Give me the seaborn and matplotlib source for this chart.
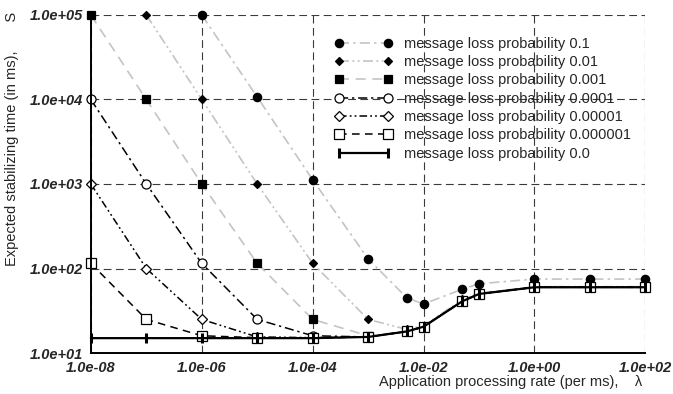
import numpy as np
import matplotlib
matplotlib.use("Agg")
import matplotlib.pyplot as plt
from matplotlib.ticker import FuncFormatter, NullLocator
import seaborn as sns

sns.set_style("white")
plt.rcParams['font.family'] = ['Liberation Sans', 'DejaVu Sans']

nan = np.nan
# application processing rate (per ms)
x_rate = [1e-8, 1e-7, 1e-6, 1e-5, 1e-4, 1e-3, 5e-3, 1e-2, 5e-2, 1e-1, 1e0, 1e1, 1e2]

# expected stabilizing time (ms) per message loss probability
s_p1 = [nan, nan, 1.0e5, 1.07e4, 1.12e3, 130, 45, 38, 57, 66, 75, 75, 75]
s_p01 = [nan, 1.0e5, 1.0e4, 1.0e3, 115, 25, 19, 21, 43, 51, 61, 61, 61]
s_p001 = [1.0e5, 1.0e4, 1.0e3, 115, 25, 16, 18, 20.5, 41, 50, 60, 60, 60]
s_p0001 = [1.0e4, 1.0e3, 115, 25, 16, 15.5, 18, 20.5, 41, 50, 60, 60, 60]
s_p00001 = [1.0e3, 100, 25, 15.5, 15.2, 15.5, 18, 20.5, 41, 50, 60, 60, 60]
s_p000001 = [115, 25, 16, 15.2, 15, 15.5, 18, 20.5, 41, 50, 60, 60, 60]
s_p0 = [15, 15, 15, 15, 15, 15.5, 18, 20.5, 41, 50, 60, 60, 60]

labels = ["message loss probability 0.1", "message loss probability 0.01",
          "message loss probability 0.001", "message loss probability 0.0001",
          "message loss probability 0.00001", "message loss probability 0.000001",
          "message loss probability 0.0"]
series = [s_p1, s_p01, s_p001, s_p0001, s_p00001, s_p000001, s_p0]

grey = "#c4c4c4"
styles = [
    dict(color=grey, ls=(0, (6, 2.5, 1.5, 2.5)), lw=1.2, marker="o", ms=6, mfc="black"),
    dict(color=grey, ls=(0, (6, 2, 1.2, 2, 1.2, 2)), lw=1.2, marker="D", ms=4, mfc="black"),
    dict(color=grey, ls=(0, (6, 4)), lw=1.2, marker="s", ms=6, mfc="black"),
    dict(color="black", ls=(0, (6, 2.5, 1.5, 2.5)), lw=1.1, marker="o", ms=6.5, mfc="white"),
    dict(color="black", ls=(0, (5, 2, 1.2, 2, 1.2, 2)), lw=1.1, marker="D", ms=5, mfc="white"),
    dict(color="black", ls=(0, (5, 3.5)), lw=1.1, marker="s", ms=6.5, mfc="white"),
    dict(color="black", ls="-", lw=1.6, marker="|", ms=7, mfc="black"),
]

fig = plt.figure(figsize=(6.73, 3.94), dpi=100)
ax = fig.add_axes([0.135, 0.104, 0.824, 0.858])
ax.set_xscale("log")
ax.set_yscale("log")

for vals, lab, st in zip(series, labels, styles):
    sns.lineplot(x=x_rate, y=vals, ax=ax, label=lab, color=st["color"],
                 linestyle=st["ls"], linewidth=st["lw"], marker=st["marker"],
                 markersize=st["ms"], markerfacecolor=st["mfc"],
                 markeredgecolor="black",
                 markeredgewidth=2.2 if st["marker"] == "|" else 0.9,
                 clip_on=False)

ax.set_xlim(1e-8, 1e2)
ax.set_ylim(1e1, 1e5)
ax.set_xticks([1e-8, 1e-6, 1e-4, 1e-2, 1e0, 1e2])
ax.set_yticks([1e1, 1e2, 1e3, 1e4, 1e5])
ax.xaxis.set_minor_locator(NullLocator())
ax.yaxis.set_minor_locator(NullLocator())
fmt = FuncFormatter(lambda v, p: f"{v:.1e}")
ax.xaxis.set_major_formatter(fmt)
ax.yaxis.set_major_formatter(fmt)
for t in ax.get_xticklabels() + ax.get_yticklabels():
    t.set_fontweight("bold")
    t.set_fontstyle("italic")
    t.set_fontsize(10.5)
ax.tick_params(axis="both", direction="out", length=3, width=1, color="black", pad=3)

ax.grid(True, which="major", color="#3a3a3a", linestyle=(0, (7, 4)), linewidth=0.8)
ax.set_axisbelow(True)
for side in ["top", "right"]:
    ax.spines[side].set_visible(False)
for side in ["left", "bottom"]:
    ax.spines[side].set_color("black")
    ax.spines[side].set_linewidth(1.4)

ax.set_xlabel("Application processing rate (per ms),    \u03bb", fontsize=10.5, ha="right", va="top")
ax.xaxis.set_label_coords(0.994, -0.066)
ax.set_ylabel("Expected stabilizing time (in ms),       S", fontsize=10.5, va="center")
ax.yaxis.set_label_coords(-0.142, 0.633)

ax.legend(loc="upper left", bbox_to_anchor=(0.439, 0.936), frameon=False, fontsize=10.5,
          numpoints=2, handlelength=4.0, handletextpad=0.8, labelspacing=0.3,
          borderpad=0, borderaxespad=0)

fig.savefig("out.png", dpi=100)
